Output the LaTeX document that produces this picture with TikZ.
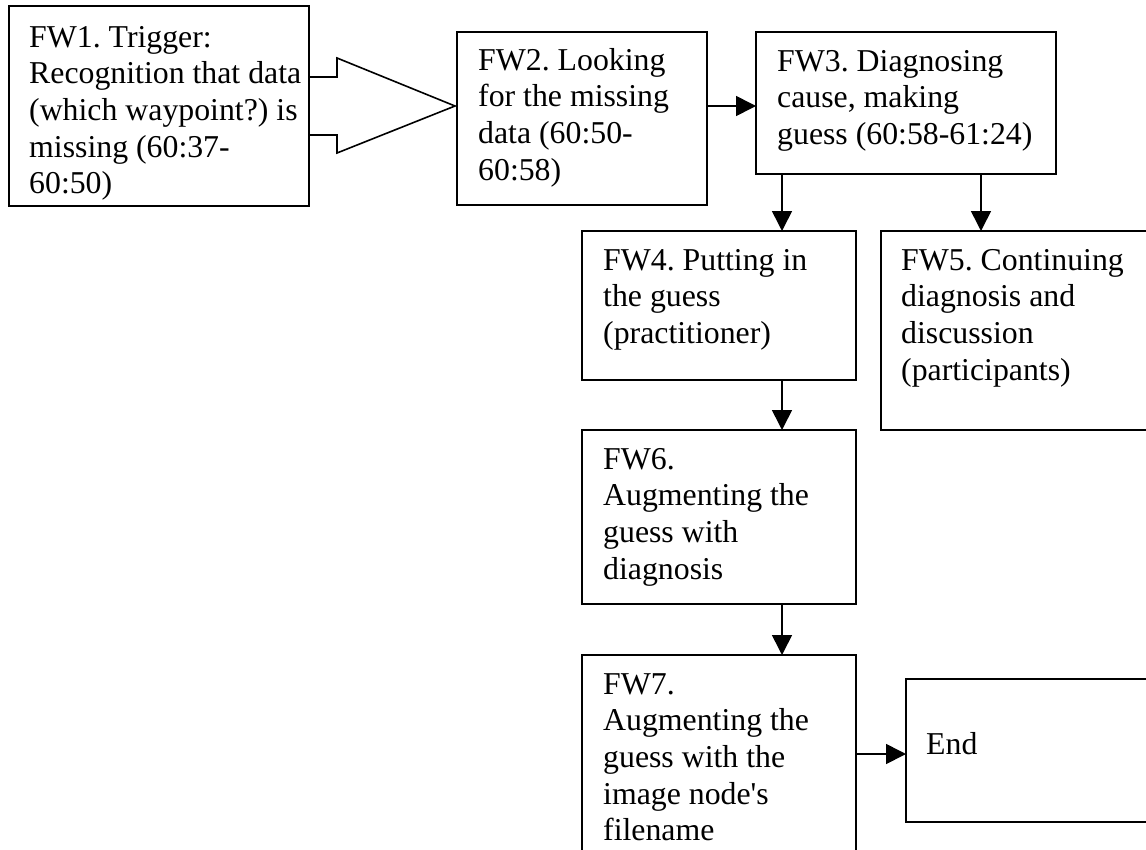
\documentclass[tikz,border=0pt]{standalone}
\usepackage{fontspec}
\setmainfont{Liberation Serif}
\usetikzlibrary{arrows.meta}
\frenchspacing
% raise the first line so that its baseline lies #1 below the top of the box
\newcommand{\firstline}[1]{\rule{0pt}{#1}}
\begin{document}
\begin{tikzpicture}[x=1pt,y=-1pt,
  stepbox/.style={draw, line width=1.6pt, fill=white, inner sep=0pt, outer sep=0pt, anchor=north west},
  steptext/.style={anchor=north west, align=left, inner sep=0pt, font=\fontsize{31.8}{36.6}\selectfont},
  link/.style={line width=1.6pt, -{Triangle[length=20pt,width=20pt]}},
  blockarrow/.style={draw, line width=1.6pt, fill=white, line join=miter},
]
\useasboundingbox (0,0) rectangle (1146,849);
\clip (0,0) rectangle (1146,849);

% wide outlined arrow leaving the trigger box
\path[blockarrow] (250,77) -- (337,77) -- (337,58) -- (455,106) -- (337,153) -- (337,135) -- (250,135) -- cycle;

% step boxes
\node[stepbox, minimum width=300pt, minimum height=200pt] (FW1) at (9,6) {};
\node[stepbox, minimum width=250pt, minimum height=173pt] (FW2) at (457,32) {};
\node[stepbox, minimum width=300pt, minimum height=142pt] (FW3) at (756,32) {};
\node[stepbox, minimum width=274pt, minimum height=149pt] (FW4) at (582,231) {};
\node[stepbox, minimum width=290pt, minimum height=199pt] (FW5) at (881,231) {};
\node[stepbox, minimum width=274pt, minimum height=174pt] (FW6) at (582,430) {};
\node[stepbox, minimum width=274pt, minimum height=230pt] (FW7) at (582,655) {};
\node[stepbox, minimum width=270pt, minimum height=143pt] (End) at (906,679) {};

% box texts
\node[steptext] (FW1t) at (29,6) {\firstline{41pt}FW1. Trigger:\\Recognition that data\\(which waypoint?) is\\missing (60:37-\\60:50)};
\node[steptext] (FW2t) at (478,32) {\firstline{38pt}FW2. Looking\\for the missing\\data (60:50-\\60:58)};
\node[steptext] (FW3t) at (777,32) {\firstline{39pt}FW3. Diagnosing\\cause, making\\guess (60:58-61:24)};
\node[steptext] (FW4t) at (603,231) {\firstline{39pt}FW4. Putting in\\the guess\\(practitioner)};
\node[steptext] (FW5t) at (901,231) {\firstline{39pt}FW5. Continuing\\diagnosis and\\discussion\\(participants)};
\node[steptext] (FW6t) at (603,430) {\firstline{39pt}FW6.\\Augmenting the\\guess with\\diagnosis};
\node[steptext] (FW7t) at (603,655) {\firstline{39pt}FW7.\\Augmenting the\\guess with the\\image node\textquotesingle s\\filename};
\node[steptext] (Endt) at (926,679) {\firstline{75pt}End};

% connectors
\coordinate (row23) at (0,106);
\coordinate (col4) at (782,0);
\coordinate (col5) at (981,0);
\coordinate (rowEnd) at (0,754);
\draw[link] (FW2.east |- row23) -- (FW3.west |- row23);
\draw[link] (FW3.south -| col4) -- (FW4.north -| col4);
\draw[link] (FW3.south -| col5) -- (FW5.north -| col5);
\draw[link] (FW4.south -| col4) -- (FW6.north -| col4);
\draw[link] (FW6.south -| col4) -- (FW7.north -| col4);
\draw[link] (FW7.east |- rowEnd) -- (End.west |- rowEnd);
\end{tikzpicture}
\end{document}
